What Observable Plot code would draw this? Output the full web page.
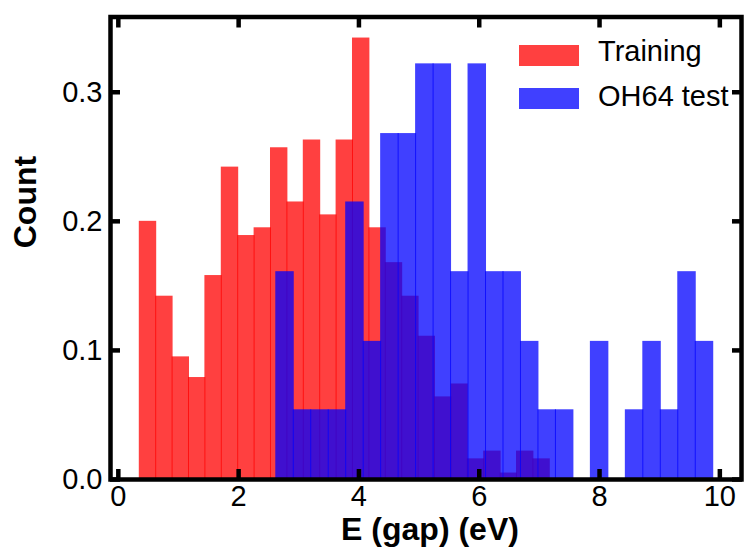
<!DOCTYPE html>
<html>
<head>
<meta charset="utf-8">
<script src="https://cdn.jsdelivr.net/npm/d3@7"></script>
<script src="https://cdn.jsdelivr.net/npm/@observablehq/plot@0.6"></script>
<style>
  body { margin: 0; background: #fff; }
  #chart { position: relative; width: 744px; height: 550px; }
  .sw { position: absolute; width: 60px; height: 21px; }
  .lt { position: absolute; font-family: "Liberation Sans", Arial, sans-serif; font-size: 29px; line-height: 29px; color: #000; white-space: nowrap; }
</style>
</head>
<body>
<div id="chart"></div>
<script>
// Band-gap histograms (normalised), 25 bins each
const trainingName = "Training";
const testName = "OH64 test";
const trainingEdges = [0.357, 7.173];   // first and last bin edge (eV)
const trainingHeights = [0.200, 0.142, 0.095, 0.079, 0.158, 0.242, 0.189, 0.195, 0.257, 0.215,
                         0.263, 0.205, 0.263, 0.342, 0.195, 0.168, 0.142, 0.111, 0.064, 0.074,
                         0.016, 0.022, 0.005, 0.022, 0.016];
const testEdges = [2.626, 9.890];
const testHeights = [0.161, 0.054, 0.054, 0.054, 0.215, 0.107, 0.268, 0.268, 0.322, 0.322,
                     0.161, 0.322, 0.161, 0.161, 0.107, 0.054, 0.054, 0.000, 0.107, 0.000,
                     0.054, 0.107, 0.054, 0.161, 0.107];
const xTicks = [0, 2, 4, 6, 8, 10];
const yTicks = [0, 0.1, 0.2, 0.3];
const xLabel = "E (gap) (eV)";
const yLabel = "Count";

const trainingColor = "#ff0000";
const testColor = "#0000ff";

function toBins(edges, heights) {
  const n = heights.length, w = (edges[1] - edges[0]) / n;
  return heights.map((h, i) => ({x1: edges[0] + i * w, x2: edges[0] + (i + 1) * w, h}))
                .filter(d => d.h > 0);
}
const trainingBins = toBins(trainingEdges, trainingHeights);
const testBins = toBins(testEdges, testHeights);

const tickStyle = {tickSize: -10, strokeWidth: 4.5, tickFormat: () => "", label: null};

const chart = Plot.plot({
  width: 744,
  height: 550,
  marginLeft: 110,
  marginRight: 3,
  marginTop: 16.5,
  marginBottom: 71,
  x: {domain: [-0.13, 10.36]},
  y: {domain: [0, 0.3583]},
  style: {fontFamily: "'Liberation Sans', Arial, sans-serif", fontSize: "29px", color: "#000", background: "#fff"},
  marks: [
    Plot.rectY(trainingBins, {x1: "x1", x2: "x2", y: "h", fill: trainingColor, fillOpacity: 0.75, insetLeft: -0.5, insetRight: -0.5}),
    Plot.rectY(testBins, {x1: "x1", x2: "x2", y: "h", fill: testColor, fillOpacity: 0.75, insetLeft: -0.5, insetRight: -0.5}),
    Plot.frame({stroke: "#000", strokeWidth: 4.5}),
    // inward ticks on all four sides
    Plot.axisX(xTicks, {anchor: "bottom", ...tickStyle}),
    Plot.axisX(xTicks, {anchor: "top", ...tickStyle}),
    Plot.axisY(yTicks, {anchor: "left", ...tickStyle}),
    Plot.axisY(yTicks, {anchor: "right", ...tickStyle}),
    // tick labels
    Plot.axisX(xTicks, {anchor: "bottom", tickSize: 0, tickPadding: 6, label: null, fontSize: 29}),
    Plot.axisY(yTicks, {anchor: "left", tickSize: 0, tickPadding: 8, label: null, fontSize: 29, tickFormat: d3.format(".1f")}),
    // axis titles
    Plot.text([xLabel], {frameAnchor: "bottom", dy: 50, dx: 4, lineAnchor: "middle", fontWeight: "bold", fontSize: 32}),
    Plot.text([yLabel], {frameAnchor: "left", dx: -85, rotate: -90, lineAnchor: "middle", fontWeight: "bold", fontSize: 32})
  ]
});

const host = document.getElementById("chart");
host.appendChild(chart);

// legend inside the upper-right corner of the plot area
[[trainingName, trainingColor, 45, 37], [testName, testColor, 88, 81.5]].forEach(([name, color, top, textTop]) => {
  const sw = document.createElement("div");
  sw.className = "sw";
  sw.style.left = "519px";
  sw.style.top = top + "px";
  sw.style.background = color;
  sw.style.opacity = 0.75;
  host.appendChild(sw);
  const t = document.createElement("div");
  t.className = "lt";
  t.style.left = "598px";
  t.style.top = textTop + "px";
  t.textContent = name;
  host.appendChild(t);
});
</script>
</body>
</html>
